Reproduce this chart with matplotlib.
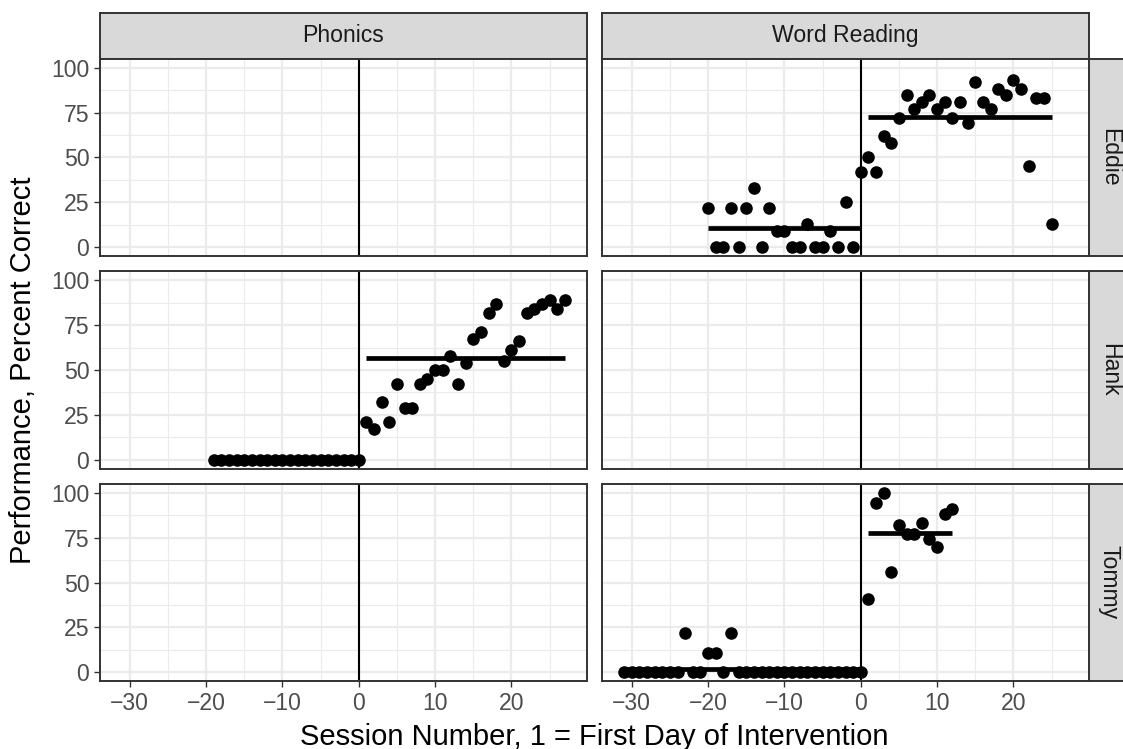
import matplotlib
matplotlib.use("Agg")
import matplotlib.pyplot as plt
import numpy as np

plt.rcParams['font.family'] = ['Liberation Sans', 'DejaVu Sans']

# data
students = ["Eddie", "Hank", "Tommy"]
skills = ["Phonics", "Word Reading"]

eddie_word_sessions = list(range(-20, 26))
eddie_word_scores = [22, 0, 0, 22, 0, 22, 33, 0, 22, 9, 9, 0, 0, 13, 0, 0, 9, 0, 25, 0, 42,
                     50, 42, 62, 58, 72, 85, 77, 81, 85, 77, 81, 72, 81, 69, 92, 81, 77, 88,
                     85, 93, 88, 45, 83, 83, 13]

hank_phonics_sessions = list(range(-19, 28))
hank_phonics_scores = [0, 0, 0, 0, 0, 0, 0, 0, 0, 0, 0, 0, 0, 0, 0, 0, 0, 0, 0, 0,
                       21, 17, 32, 21, 42, 29, 29, 42, 45, 50, 50, 58, 42, 54, 67, 71, 82,
                       87, 55, 61, 66, 82, 84, 87, 89, 84, 89]

tommy_word_sessions = list(range(-31, 13))
tommy_word_scores = [0, 0, 0, 0, 0, 0, 0, 0, 22, 0, 0, 11, 11, 0, 22, 0, 0, 0, 0, 0, 0, 0,
                     0, 0, 0, 0, 0, 0, 0, 0, 0, 0,
                     41, 94, 100, 56, 82, 77, 77, 83, 74, 70, 88, 91]

panel_data = {
    ("Eddie", "Word Reading"): (eddie_word_sessions, eddie_word_scores),
    ("Hank", "Phonics"): (hank_phonics_sessions, hank_phonics_scores),
    ("Tommy", "Word Reading"): (tommy_word_sessions, tommy_word_scores),
}

W, H = 1123, 749
fig = plt.figure(figsize=(W / 100, H / 100), dpi=100)


def box(x0, y0, x1, y1):
    return [x0 / W, 1 - y1 / H, (x1 - x0) / W, (y1 - y0) / H]


cols = [(100, 587), (602, 1089)]
rows = [(58.7, 256.3), (271.2, 468.8), (483.7, 681.3)]
border = "#333333"
strip_fill = "#D9D9D9"
small = 16.6
big = 21


def strip(rect, label, rot=0, tx=0.5):
    s = fig.add_axes(box(*rect))
    s.set_facecolor(strip_fill)
    s.set_xticks([])
    s.set_yticks([])
    for sp in s.spines.values():
        sp.set_color(border)
        sp.set_linewidth(1.4)
    s.text(tx, 0.5, label, transform=s.transAxes, ha="center", va="center",
           fontsize=small, color="#1A1A1A", rotation=rot)


for ci, skill in enumerate(skills):
    strip((cols[ci][0], 13, cols[ci][1], rows[0][0]), skill)

for ri, name in enumerate(students):
    # right strip runs off the edge of the image, as in the original
    strip((1089, rows[ri][0], 1134, rows[ri][1]), name, rot=-90, tx=0.45)
    for ci, skill in enumerate(skills):
        ax = fig.add_axes(box(cols[ci][0], rows[ri][0], cols[ci][1], rows[ri][1]))
        ax.set_xlim(-33.9, 29.9)
        ax.set_ylim(-5, 105)
        ax.set_xticks([-30, -20, -10, 0, 10, 20])
        ax.set_xticks([-25, -15, -5, 5, 15, 25], minor=True)
        ax.set_yticks([0, 25, 50, 75, 100])
        ax.set_yticks([12.5, 37.5, 62.5, 87.5], minor=True)
        ax.grid(which="major", color="#EBEBEB", lw=1.6)
        ax.grid(which="minor", color="#EBEBEB", lw=0.8)
        ax.set_axisbelow(True)
        for sp in ax.spines.values():
            sp.set_color(border)
            sp.set_linewidth(1.4)
        ax.tick_params(which="minor", length=0)
        ax.tick_params(which="major", length=4.2, width=1.0, color=border,
                       labelcolor="#4D4D4D", labelsize=small, pad=3.5)
        if ci > 0:
            ax.tick_params(axis="y", which="major", length=0, labelleft=False)
        if ri < len(students) - 1:
            ax.tick_params(axis="x", which="major", length=0, labelbottom=False)

        ax.axvline(0, color="black", lw=1.5, zorder=2)

        if (name, skill) in panel_data:
            x, y = panel_data[(name, skill)]
            x = np.array(x)
            y = np.array(y)
            ax.scatter(x, y, s=82, color="black", linewidths=0, zorder=3, clip_on=False)
            for mask in (x <= 0, x > 0):
                ax.plot([x[mask].min(), x[mask].max()], [y[mask].mean()] * 2,
                        color="black", lw=3.4, solid_capstyle="butt", zorder=4)

fig.text(23 / W, 1 - 370 / H, "Performance, Percent Correct", rotation=90,
         ha="center", va="center", fontsize=big, color="black")
fig.text(594.5 / W, 1 - 745 / H, "Session Number, 1 = First Day of Intervention",
         ha="center", va="baseline", fontsize=big, color="black")

fig.savefig("out.png", dpi=100, facecolor="white")
